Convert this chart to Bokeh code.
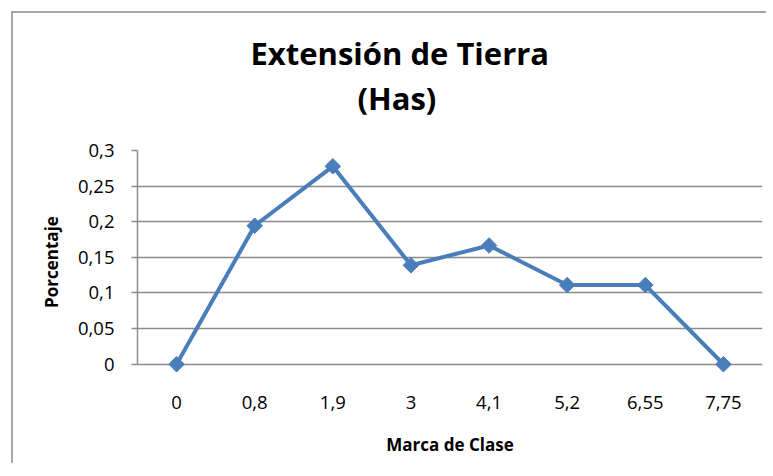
import math
from bokeh.plotting import figure
from bokeh.models import FactorRange, Range1d, CustomJSTickFormatter, Title
from bokeh.embed import file_html
from bokeh.resources import INLINE

# ---- data ----
categories = ["0", "0,8", "1,9", "3", "4,1", "5,2", "6,55", "7,75"]
porcentaje = [0.0, 0.1944, 0.2778, 0.1389, 0.1667, 0.1111, 0.1111, 0.0]
y_ticks = [0, 0.05, 0.1, 0.15, 0.2, 0.25, 0.3]

title_line1 = "Extensión de Tierra"
title_line2 = "(Has)"
x_label = "Marca de Clase"
y_label = "Porcentaje"

FONT = "Open Sans"
BLUE = "#4a7ebb"
GRAY = "#8c8c8c"

p = figure(
    width=755, height=452,
    x_range=FactorRange(factors=categories, range_padding=0),
    y_range=Range1d(-0.013, 0.3),
    output_backend="svg", toolbar_location=None,
    min_border_left=124, min_border_right=6,
    min_border_top=137, min_border_bottom=92,
)
p.styles = {"margin-left": "11px", "margin-top": "11px",
            "border-left": "2px solid #a6a6a6", "border-top": "2px solid #a6a6a6"}
p.outline_line_color = None
p.background_fill_color = "white"
p.border_fill_color = "white"

# titles (lower line added first)
p.add_layout(Title(text=title_line2, text_font=FONT, text_font_size="31px",
                   text_font_style="bold", text_color="black",
                   align="left", offset=220, standoff=64), "above")
p.add_layout(Title(text=title_line1, text_font=FONT, text_font_size="31px",
                   text_font_style="bold", text_color="black",
                   align="left", offset=113, standoff=-63), "above")

p.line(categories, porcentaje, line_color=BLUE, line_width=4, line_join="round")
p.scatter(categories, porcentaje, marker="square", size=11, angle=math.pi / 4,
          fill_color=BLUE, line_color=BLUE)

# grid
p.xgrid.visible = False
p.ygrid.grid_line_color = GRAY
p.ygrid.grid_line_width = 1.5

# y axis
p.yaxis.ticker = y_ticks
p.yaxis.bounds = (0, 0.3)
p.yaxis.formatter = CustomJSTickFormatter(code="return tick.toString().replace('.', ',')")
p.yaxis.axis_line_color = GRAY
p.yaxis.axis_line_width = 1.5
p.yaxis.major_tick_line_color = GRAY
p.yaxis.major_tick_line_width = 1.5
p.yaxis.major_tick_out = 6
p.yaxis.major_tick_in = 0
p.yaxis.minor_tick_line_color = None
p.yaxis.major_label_standoff = 17
p.yaxis.major_label_text_font = FONT
p.yaxis.major_label_text_font_size = "18.5px"
p.yaxis.major_label_text_color = "black"
p.yaxis.axis_label = y_label
p.yaxis.axis_label_text_font = FONT
p.yaxis.axis_label_text_font_size = "17px"
p.yaxis.axis_label_text_font_style = "bold"
p.yaxis.axis_label_text_color = "black"
p.yaxis.axis_label_standoff = 12

# x axis
p.xaxis.axis_line_color = None
p.xaxis.major_tick_line_color = None
p.xaxis.minor_tick_line_color = None
p.xaxis.major_label_standoff = 16
p.xaxis.major_label_text_font = FONT
p.xaxis.major_label_text_font_size = "18.5px"
p.xaxis.major_label_text_color = "black"
p.xaxis.axis_label = x_label
p.xaxis.axis_label_text_font = FONT
p.xaxis.axis_label_text_font_size = "17px"
p.xaxis.axis_label_text_font_style = "bold"
p.xaxis.axis_label_text_color = "black"
p.xaxis.axis_label_standoff = 21

open("out.html", "w").write(file_html(p, INLINE))
